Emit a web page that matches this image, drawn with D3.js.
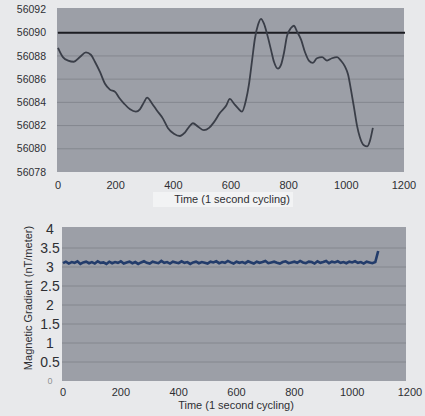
<!DOCTYPE html>
<meta charset="utf-8">
<script src="https://cdn.jsdelivr.net/npm/d3@7"></script>
<style>
  body { margin: 0; background: #e8e9eb; }
  text { font-family: "Liberation Sans", Arial, sans-serif; fill: #2e2f33; }
</style>
<body>
<script>

// Top chart: total field (nT) vs time
var topTime = [0, 17, 35, 55, 76, 97, 114, 128, 146, 163, 180, 198, 212, 229, 250, 270, 284, 298, 309, 326,
  343, 364, 381, 402, 423, 440, 458, 468, 486, 506, 524, 541, 562, 583, 596, 610, 624, 638, 652, 662,
  673, 683, 694, 704, 714, 725, 739, 749, 763, 773, 784, 794, 808, 818, 829, 843, 857, 870, 884, 898,
  916, 933, 950, 968, 981, 995, 1006, 1016, 1027, 1037, 1047, 1061, 1072, 1082, 1092];
var topValue = [56088.7, 56087.9, 56087.6, 56087.5, 56087.9, 56088.3, 56088.1, 56087.5, 56086.6, 56085.6,
  56085.1, 56084.9, 56084.4, 56083.9, 56083.4, 56083.2, 56083.4, 56084.0, 56084.4, 56083.9,
  56083.3, 56082.6, 56081.8, 56081.3, 56081.1, 56081.4, 56082.0, 56082.2, 56081.9, 56081.6,
  56081.8, 56082.3, 56083.1, 56083.7, 56084.3, 56083.9, 56083.5, 56083.2, 56084.2, 56085.5,
  56087.6, 56089.5, 56090.7, 56091.2, 56090.8, 56089.9, 56088.5, 56087.5, 56086.9, 56087.2,
  56088.3, 56089.7, 56090.4, 56090.6, 56090.1, 56089.4, 56088.3, 56087.6, 56087.4, 56087.8,
  56087.9, 56087.6, 56087.8, 56087.9, 56087.6, 56087.1, 56086.4, 56085.1, 56083.5, 56082.0,
  56081.0, 56080.3, 56080.2, 56080.7, 56081.8];
var refLevel = 56090;
var topTicks = [56078, 56080, 56082, 56084, 56086, 56088, 56090, 56092];

// Bottom chart: magnetic gradient, one reading every 10 s
var gradValue = [3.10, 3.14, 3.09, 3.13, 3.11, 3.15, 3.08, 3.12, 3.14, 3.10,
  3.13, 3.09, 3.15, 3.11, 3.12, 3.08, 3.14, 3.10, 3.13, 3.11,
  3.15, 3.09, 3.12, 3.14, 3.10, 3.13, 3.08, 3.12, 3.15, 3.11,
  3.09, 3.14, 3.12, 3.10, 3.16, 3.11, 3.13, 3.09, 3.14, 3.12,
  3.10, 3.15, 3.11, 3.13, 3.08, 3.12, 3.14, 3.10, 3.13, 3.11,
  3.09, 3.14, 3.12, 3.15, 3.10, 3.13, 3.11, 3.16, 3.12, 3.09,
  3.14, 3.11, 3.13, 3.10, 3.15, 3.12, 3.09, 3.14, 3.11, 3.13,
  3.16, 3.10, 3.12, 3.14, 3.11, 3.09, 3.13, 3.15, 3.10, 3.12,
  3.14, 3.11, 3.16, 3.12, 3.10, 3.14, 3.13, 3.09, 3.15, 3.11,
  3.13, 3.16, 3.10, 3.14, 3.12, 3.15, 3.11, 3.13, 3.10, 3.14,
  3.12, 3.15, 3.11, 3.13, 3.09, 3.14, 3.12, 3.10, 3.13, 3.42];
var gradTime = d3.range(0, gradValue.length * 10, 10);
var gradTicks = [0, 0.5, 1, 1.5, 2, 2.5, 3, 3.5, 4];
var gradTickLabels = ["0", "0.5", "1", "1.5", "2", "2.5", "3", "3.5", "4"];

var timeTicks = [0, 200, 400, 600, 800, 1000, 1200];
var xTitle = "Time (1 second cycling)";
var yTitle2 = "Magnetic Gradient (nT/meter)";

var svg = d3.select("body").append("svg")
    .attr("width", 425)
    .attr("height", 416);

// ---------- top chart ----------
var x1 = d3.scaleLinear().domain([0, 1200]).range([58, 404]);
var y1 = d3.scaleLinear().domain([56078, 56092]).range([172, 9.5]);

svg.append("rect")
    .attr("x", 57).attr("y", 8)
    .attr("width", 347).attr("height", 164)
    .attr("fill", "#9c9fa7");

svg.selectAll(".grid1")
    .data(topTicks.slice(1, -1))
  .enter().append("line")
    .attr("x1", 57).attr("x2", 404)
    .attr("y1", function(d) { return y1(d); })
    .attr("y2", function(d) { return y1(d); })
    .attr("stroke", "#84878e");

svg.selectAll(".ylab1")
    .data(topTicks)
  .enter().append("text")
    .attr("x", 46)
    .attr("y", function(d) { return y1(d); })
    .attr("dy", "0.35em")
    .attr("text-anchor", "end")
    .attr("font-size", 10.5)
    .text(function(d) { return d; });

svg.selectAll(".xlab1")
    .data(timeTicks)
  .enter().append("text")
    .attr("x", function(d) { return x1(d); })
    .attr("y", 185)
    .attr("dy", "0.35em")
    .attr("text-anchor", "middle")
    .attr("font-size", 11)
    .text(function(d) { return d; });

svg.append("rect")
    .attr("x", 153).attr("y", 192)
    .attr("width", 140).attr("height", 15)
    .attr("fill", "#f2f3f4");

svg.append("text")
    .attr("x", 232).attr("y", 199)
    .attr("dy", "0.35em")
    .attr("text-anchor", "middle")
    .attr("font-size", 11)
    .text(xTitle);

// reference level
svg.append("line")
    .attr("x1", x1(0)).attr("x2", 405)
    .attr("y1", y1(refLevel)).attr("y2", y1(refLevel))
    .attr("stroke", "#1c1d22")
    .attr("stroke-width", 2);

var line1 = d3.line()
    .x(function(d, i) { return x1(topTime[i]); })
    .y(function(d) { return y1(d); })
    .curve(d3.curveMonotoneX);

svg.append("path")
    .datum(topValue)
    .attr("d", line1)
    .attr("fill", "none")
    .attr("stroke", "#3a3e48")
    .attr("stroke-width", 1.8);

// ---------- bottom chart ----------
var x2 = d3.scaleLinear().domain([0, 1200]).range([63, 410]);
var y2 = d3.scaleLinear().domain([0, 4]).range([381, 229]);

svg.append("rect")
    .attr("x", 62).attr("y", 227)
    .attr("width", 344).attr("height", 154)
    .attr("fill", "#9c9fa7");

svg.selectAll(".grid2")
    .data(gradTicks.slice(1, -1))
  .enter().append("line")
    .attr("x1", 62).attr("x2", 406)
    .attr("y1", function(d) { return y2(d); })
    .attr("y2", function(d) { return y2(d); })
    .attr("stroke", "#84878e");

svg.selectAll(".ylab2")
    .data(gradTicks)
  .enter().append("text")
    .attr("x", 50)
    .attr("y", function(d) { return y2(d); })
    .attr("dy", "0.35em")
    .attr("text-anchor", "middle")
    .attr("font-size", function(d) { return d === 0 ? 9 : 14; })
    .attr("fill-opacity", function(d) { return d === 0 ? 0.5 : 1; })
    .text(function(d, i) { return gradTickLabels[i]; });

svg.selectAll(".xlab2")
    .data(timeTicks)
  .enter().append("text")
    .attr("x", function(d) { return x2(d); })
    .attr("y", 392)
    .attr("dy", "0.35em")
    .attr("text-anchor", "middle")
    .attr("font-size", 11)
    .text(function(d) { return d; });

svg.append("text")
    .attr("x", 236).attr("y", 405)
    .attr("dy", "0.35em")
    .attr("text-anchor", "middle")
    .attr("font-size", 11)
    .text(xTitle);

svg.append("text")
    .attr("transform", "translate(28,298) rotate(-90)")
    .attr("dy", "0.35em")
    .attr("text-anchor", "middle")
    .attr("font-size", 11)
    .text(yTitle2);

var line2 = d3.line()
    .x(function(d, i) { return x2(gradTime[i]); })
    .y(function(d) { return y2(d); });

svg.append("path")
    .datum(gradValue)
    .attr("d", line2)
    .attr("fill", "none")
    .attr("stroke", "#233c6b")
    .attr("stroke-width", 2.6);

</script>
</body>
</html>
